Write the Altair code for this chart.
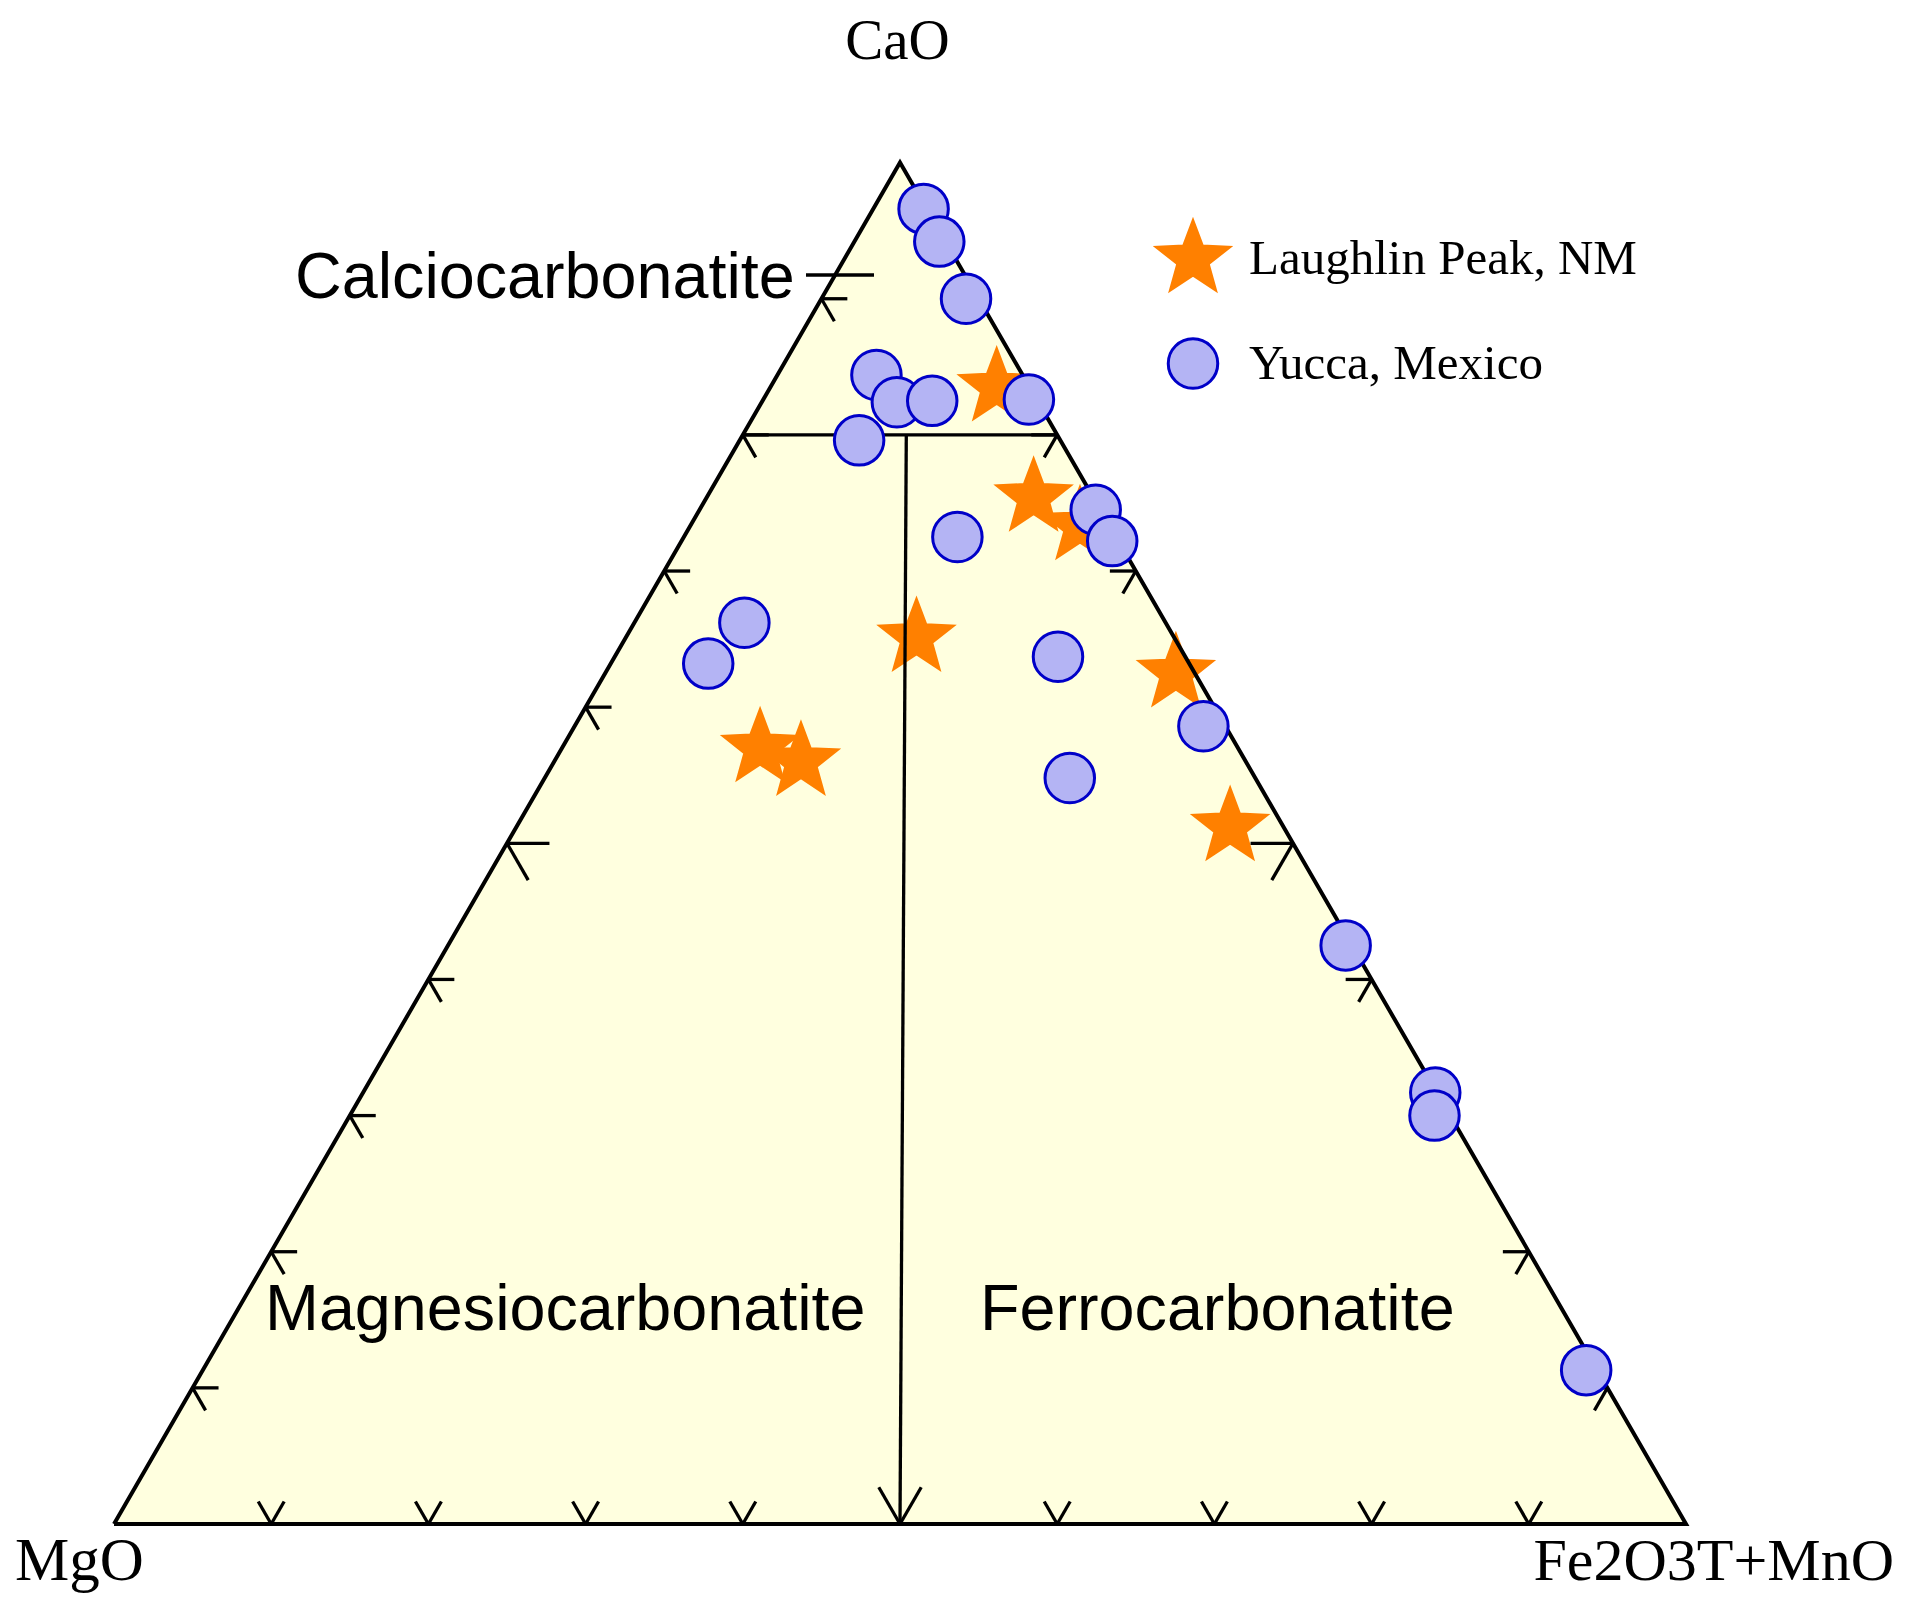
import math
import altair as alt
import pandas as pd

# ---------------- data (ternary compositions, %) ----------------
groups = ["Laughlin Peak, NM", "Yucca, Mexico"]

lp_cao = [83.5, 75.4, 73.3, 65.1, 62.5, 57.0, 56.0, 51.2]
lp_mgo = [2.1, 3.8, 1.9, 16.4, 1.2, 30.4, 28.3, 3.4]
lp_fe = [14.4, 20.8, 24.8, 18.5, 36.3, 12.6, 15.7, 45.4]

yu_cao = [96.6, 94.2, 90.0, 84.4, 82.4, 82.5, 79.6, 82.6, 74.5, 72.2,
          72.5, 66.2, 63.2, 63.7, 58.6, 54.8, 42.5, 31.7, 30.0, 11.3]
yu_mgo = [0.2, 0.4, 0.8, 9.3, 9.0, 6.7, 12.8, 0.5, 0.3, 0.4,
          10.1, 26.8, 30.6, 8.1, 1.4, 11.8, 0.4, 0.1, 1.0, 0.7]
yu_fe = [3.2, 5.4, 9.2, 6.3, 8.6, 10.8, 7.6, 16.9, 25.2, 27.4,
         17.4, 7.0, 6.2, 28.2, 40.0, 33.4, 57.1, 68.2, 69.0, 88.0]

# field boundaries (CaO, MgO, Fe2O3T+MnO)
boundary_start = [[80, 20, 0], [80, 9.6, 10.4]]
boundary_end = [[80, 0, 20], [0, 50, 50]]

tick_values = [10, 20, 30, 40, 50, 60, 70, 80, 90]

apex_labels = ["CaO", "MgO", "Fe2O3T+MnO"]
field_labels = ["Calciocarbonatite", "Magnesiocarbonatite", "Ferrocarbonatite"]

# ---------------- helpers ----------------
S3 = math.sqrt(3) / 2


def tern(c, m, f):
    t = c + m + f
    return (f + c / 2) / t, (c / t) * S3


points = pd.DataFrame({
    "group": [groups[0]] * len(lp_cao) + [groups[1]] * len(yu_cao),
    "cao": lp_cao + yu_cao,
    "mgo": lp_mgo + yu_mgo,
    "fe": lp_fe + yu_fe,
})

tri = pd.DataFrame({"x": [0, 0.5, 1], "y": [0, S3, 0], "y0": [0, 0, 0]})
outline = pd.DataFrame({
    "x": [0, 0.5, 1, 0], "y": [0, S3, 0, 0], "o": [0, 1, 2, 3]})

K = 1572.0  # px per unit side

seg = []
for s, e in zip(boundary_start, boundary_end):
    x1, y1 = tern(*s)
    x2, y2 = tern(*e)
    seg.append({"x": x1, "y": y1, "x2": x2, "y2": y2})
# leader line of the Calciocarbonatite label
seg.append({"x": (806 - 114) / K, "y": (1524 - 275) / K,
            "x2": (874 - 114) / K, "y2": (1524 - 275) / K})

# arrow-head ticks on every edge
SMALL, BIG = 0.0165, 0.027
for t in tick_values:
    a = t / 100
    L = BIG if t == 50 else SMALL
    edges = [
        ((a, 0.0), (60, 120)),                  # bottom
        ((a / 2, a * S3), (0, 300)),             # left
        ((1 - a / 2, a * S3), (180, 240)),       # right
    ]
    for (px, py), angs in edges:
        for ang in angs:
            r = math.radians(ang)
            seg.append({"x": px, "y": py,
                        "x2": px + L * math.cos(r),
                        "y2": py + L * math.sin(r)})
segs = pd.DataFrame(seg)

# label placement (layout, in plot units)
lab_pos = pd.DataFrame({
    "text": apex_labels + field_labels,
    "x": [0.4984, (15 - 114) / K, (1894 - 114) / K,
          (295 - 114) / K, (265 - 114) / K, (980 - 114) / K],
    "y": [(1524 - 59) / K, (1524 - 1580) / K, (1524 - 1580) / K,
          (1524 - 298) / K, (1524 - 1330) / K, (1524 - 1330) / K],
})

# ---------------- scales / layout ----------------
W, H = 1885, 1585
XMIN = -106 / K
XMAX = XMIN + W / K
YMAX = (1524 - 8) / K
YMIN = YMAX - H / K
xs = alt.Scale(domain=[XMIN, XMAX], nice=False, zero=False)
ys = alt.Scale(domain=[YMIN, YMAX], nice=False, zero=False)
XE = alt.X("x:Q", scale=xs, axis=None)
YE = alt.Y("y:Q", scale=ys, axis=None)

R_IN = 0.42
star_pts = []
for i in range(10):
    ang = math.radians(-90 + 36 * i)
    rr = 1.0 if i % 2 == 0 else R_IN
    star_pts.append(f"{rr * math.cos(ang):.3f},{rr * math.sin(ang):.3f}")
STAR = "M" + "L".join(star_pts) + "Z"

STAR_C = "#FF8000"
CIRC_FILL = "#B4B4F4"
CIRC_STROKE = "#0000C8"
TRI_FILL = "#FFFFDF"
SERIF = "Liberation Serif"
SANS = "Liberation Sans"

fill_layer = alt.Chart(tri).mark_area(color=TRI_FILL, opacity=1).encode(
    x=XE, y=YE, y2="y0:Q")

outline_layer = alt.Chart(outline).mark_line(
    color="black", strokeWidth=4, strokeJoin="miter").encode(
    x=XE, y=YE, order="o:Q")

seg_layer = alt.Chart(segs).mark_rule(color="black", strokeWidth=3.3).encode(
    x=XE, y=YE, x2="x2:Q", y2="y2:Q")


def text_layer(names, font, size, align):
    return alt.Chart(lab_pos).transform_filter(
        alt.FieldOneOfPredicate(field="text", oneOf=names)
    ).mark_text(font=font, fontSize=size, align=align,
                baseline="alphabetic", color="black").encode(
        x=XE, y=YE, text="text:N")


labels = [
    text_layer(["CaO"], SERIF, 57, "center"),
    text_layer(["MgO"], SERIF, 61, "left"),
    text_layer(["Fe2O3T+MnO"], SERIF, 60, "right"),
    text_layer(field_labels, SANS, 64.7, "left"),
]

pt_x = alt.X("px:Q", scale=xs, axis=None)
pt_y = alt.Y("py:Q", scale=ys, axis=None)
shape_enc = alt.Shape(
    "group:N", scale=alt.Scale(domain=groups, range=[STAR, "circle"]),
    legend=alt.Legend(
        title=None, orient="none", legendX=1145, legendY=211,
        labelFont=SERIF, labelFontSize=49, labelColor="black",
        symbolStrokeWidth=3, rowPadding=36, labelOffset=16,
        padding=0, symbolOpacity=1, labelLimit=600))
fill_enc = alt.Fill("group:N", scale=alt.Scale(domain=groups, range=[STAR_C, CIRC_FILL]))
stroke_enc = alt.Stroke("group:N", scale=alt.Scale(domain=groups, range=[STAR_C, CIRC_STROKE]))
size_enc = alt.Size("group:N", scale=alt.Scale(domain=groups, range=[5800, 2450]))

calc = dict(
    tot="datum.cao + datum.mgo + datum.fe",
    px="(datum.fe + datum.cao / 2) / datum.tot",
    py="datum.cao / datum.tot * sqrt(3) / 2",
)


def pts_layer(g):
    return alt.Chart(points).transform_filter(
        alt.FieldEqualPredicate(field="group", equal=g)
    ).transform_calculate(**calc).mark_point(
        filled=True, opacity=1, strokeWidth=3).encode(
        x=pt_x, y=pt_y, shape=shape_enc, fill=fill_enc, stroke=stroke_enc,
        size=size_enc)


chart = alt.layer(
    fill_layer, pts_layer(groups[0]), outline_layer, seg_layer, *labels,
    pts_layer(groups[1]),
).properties(
    width=W, height=H, padding=0, background="white",
    autosize=alt.AutoSizeParams(type="none"),
).configure_view(stroke=None, strokeWidth=0)

chart.save("out.html", embed_options={"renderer": "svg", "actions": False})
